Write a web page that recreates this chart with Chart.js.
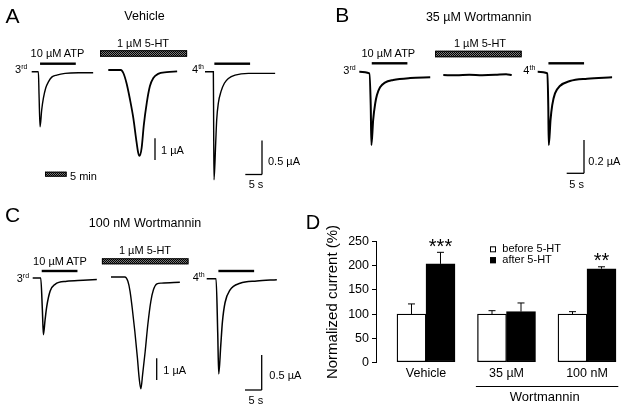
<!DOCTYPE html>
<html>
<head>
<meta charset="utf-8">
<script src="https://cdn.jsdelivr.net/npm/chart.js@4.4.0/dist/chart.umd.min.js"></script>
<style>
body { margin: 0; background: #fff; width: 628px; height: 410px; overflow: hidden; position: relative;
       font-family: "Liberation Sans", Arial, sans-serif; color: #000; }
canvas { position: absolute; }
.lbl { position: absolute; white-space: nowrap; line-height: 1; transform: translateY(-50%); font-size: 11px; }
.c { transform: translate(-50%, -50%); }
sup { font-size: 0.64em; vertical-align: 0.55em; line-height: 0; }
</style>
</head>
<body>
<canvas id="panelA" width="310" height="200" style="left:0;top:0"></canvas>
<canvas id="panelB" width="318" height="200" style="left:310px;top:0"></canvas>
<canvas id="panelC" width="300" height="210" style="left:0;top:200px"></canvas>
<canvas id="panelD" width="328" height="210" style="left:300px;top:200px"></canvas>

<!-- panel A -->
<div class="lbl c" style="left:12.5px;top:14.5px;font-size:21px">A</div>
<div class="lbl c" style="left:144.5px;top:15.5px;font-size:12.5px">Vehicle</div>
<div class="lbl c" style="left:57.5px;top:53px">10 µM ATP</div>
<div class="lbl c" style="left:143px;top:43px">1 µM 5-HT</div>
<div class="lbl" style="left:15px;top:69px">3<sup>rd</sup></div>
<div class="lbl" style="left:192px;top:69px">4<sup>th</sup></div>
<div class="lbl" style="left:161px;top:150px">1 µA</div>
<div class="lbl" style="left:268px;top:160.7px">0.5 µA</div>
<div class="lbl c" style="left:256px;top:184px">5 s</div>
<div class="lbl" style="left:70px;top:175.5px">5 min</div>

<!-- panel B -->
<div class="lbl c" style="left:342.2px;top:13.7px;font-size:21px">B</div>
<div class="lbl c" style="left:478.7px;top:16.7px;font-size:12.5px">35 µM Wortmannin</div>
<div class="lbl c" style="left:388.3px;top:53.3px">10 µM ATP</div>
<div class="lbl c" style="left:480px;top:42.7px">1 µM 5-HT</div>
<div class="lbl" style="left:343.3px;top:70.3px">3<sup>rd</sup></div>
<div class="lbl" style="left:523.3px;top:70px">4<sup>th</sup></div>
<div class="lbl" style="left:588.3px;top:160.7px">0.2 µA</div>
<div class="lbl c" style="left:576.7px;top:184.3px">5 s</div>

<!-- panel C -->
<div class="lbl c" style="left:12.5px;top:214px;font-size:21px">C</div>
<div class="lbl c" style="left:145px;top:223.3px;font-size:12.5px">100 nM Wortmannin</div>
<div class="lbl c" style="left:60px;top:261.3px">10 µM ATP</div>
<div class="lbl c" style="left:145px;top:250.3px">1 µM 5-HT</div>
<div class="lbl" style="left:16.7px;top:277.5px">3<sup>rd</sup></div>
<div class="lbl" style="left:192.7px;top:277px">4<sup>th</sup></div>
<div class="lbl" style="left:163.3px;top:370px">1 µA</div>
<div class="lbl" style="left:269.3px;top:375px">0.5 µA</div>
<div class="lbl c" style="left:255.8px;top:400.3px">5 s</div>

<!-- panel D -->
<div class="lbl c" style="left:313px;top:221.7px;font-size:20px">D</div>

<script>
// ATP currents: [time (s), current (µA)]
const vehAtp3 = [[0, 0], [2.0, 0], [2.2, -0.34], [2.5, -0.81], [3.0, -0.56], [3.5, -0.39], [4.2, -0.24], [5.0, -0.15], [6.0, -0.08], [7.5, -0.05], [10.0, -0.024], [14.0, -0.015], [18.4, -0.015]];
const vehAtp4 = [[0, 0], [2.5, 0], [2.6, -0.86], [2.7, -1.59], [3.2, -1.05], [3.5, -0.71], [4.0, -0.46], [4.8, -0.29], [5.8, -0.17], [7.0, -0.10], [9.0, -0.05], [13.0, -0.024], [21.0, -0.024]];
const wm35Atp3 = [[0, 0], [2.9, -0.01], [3.3, -0.2], [3.5, -0.44], [4.0, -0.29], [4.6, -0.19], [5.1, -0.14], [6.0, -0.094], [7.4, -0.066], [9.8, -0.05], [14.7, -0.038], [20.5, -0.034]];
const wm35Atp4 = [[0, 0], [2.8, -0.01], [3.06, -0.21], [3.2, -0.44], [3.7, -0.29], [4.2, -0.2], [5.0, -0.13], [6.4, -0.086], [9.3, -0.056], [14.3, -0.042], [21.5, -0.034]];
const wm100Atp3 = [[0, 0], [2.4, 0], [2.9, -0.46], [3.2, -0.81], [3.7, -0.6], [4.2, -0.41], [5.2, -0.19], [6.7, -0.09], [10.2, -0.047], [15.1, -0.033], [19.2, -0.023]];
const wm100Atp4 = [[0, -0.01], [2.8, -0.01], [3.3, -0.78], [3.6, -1.37], [4.2, -0.97], [4.7, -0.63], [5.5, -0.35], [7.0, -0.17], [10.0, -0.076], [15.0, -0.043], [21.0, -0.024]];

// 5-HT currents: [time (min), current (µA)]
const vehHt = [[0, 0], [2.9, 0], [3.5, -0.15], [4.2, -0.6], [5.0, -1.35], [5.8, -2.24], [6.4, -3.14], [6.9, -3.81], [7.2, -3.96], [7.7, -3.59], [8.2, -2.54], [8.9, -1.49], [9.6, -0.75], [10.4, -0.37], [11.5, -0.18], [13.5, -0.1], [15.9, -0.06]];
const wm35Ht = [[0, -0.02], [3, -0.022], [6, -0.018], [9, -0.021], [12, -0.019], [14.5, -0.015], [15.8, -0.02]];
const wm100Ht = [[0, 0], [3.2, 0], [3.9, -0.2], [4.4, -0.66], [4.9, -1.43], [5.5, -2.5], [6.1, -3.73], [6.5, -4.65], [6.9, -5.15], [7.3, -4.5], [7.9, -3.42], [8.5, -2.2], [9.2, -1.12], [9.8, -0.59], [10.6, -0.32], [11.7, -0.28], [15.9, -0.24]];

// drug application windows, on each trace's own time axis
const vehAtpWin = [[2.5, 13.2], [2.8, 13.5]];
const wm35AtpWin = [[3.6, 13.9], [3.1, 13.4]];
const wm100AtpWin = [[2.7, 13.4], [3.5, 14.2]];
const vehHtWin = [-1.9, 18.2];
const wm35HtWin = [-1.9, 18.1];
const wm100HtWin = [-2.1, 17.9];

// panel D: normalized current (%), mean and SEM
const groups = ['Vehicle', '35 µM', '100 nM'];
const seriesNames = ['before 5-HT', 'after 5-HT'];
const beforeMean = [100, 100, 100];
const beforeSem = [21, 7, 5];
const afterMean = [204, 105, 194];
const afterSem = [24, 18, 4];
const afterSig = ['***', '', '**'];

Chart.defaults.font.family = '"Liberation Sans", Arial, sans-serif';
Chart.defaults.color = '#000';
Chart.defaults.animation = false;

function hatchPattern(ctx) {
    const c = document.createElement('canvas');
    c.width = 2;
    c.height = 2;
    const g = c.getContext('2d');
    g.fillStyle = '#7a7a7a';
    g.fillRect(0, 0, 2, 2);
    g.fillStyle = '#000';
    g.fillRect(0, 0, 1, 1);
    g.fillRect(1, 1, 1, 1);
    return ctx.createPattern(c, 'repeat');
}

function drawBar(ctx, x0, x1, yc, h, hatch) {
    if (hatch) {
        ctx.fillStyle = hatchPattern(ctx);
        ctx.fillRect(x0, yc - h / 2, x1 - x0, h);
        ctx.strokeStyle = '#000';
        ctx.lineWidth = 1;
        ctx.strokeRect(x0 + 0.5, yc - h / 2 + 0.5, x1 - x0 - 1, h - 1);
    } else {
        ctx.fillStyle = '#000';
        ctx.fillRect(x0, yc - h / 2, x1 - x0, h);
    }
}

function line(ctx, x0, y0, x1, y1) {
    ctx.beginPath();
    ctx.moveTo(x0, y0);
    ctx.lineTo(x1, y1);
    ctx.stroke();
}

// axis spec: [page pixel of value 0, pixels per unit]
function axisFor(spec, id, p) {
    const horiz = id[0] === 'x';
    const size = horiz ? p.w : p.h;
    const z = spec[0] - (horiz ? p.ox : p.oy);
    const ppu = spec[1];
    if (horiz) {
        return { type: 'linear', axis: 'x', display: false, min: -z / ppu, max: (size - z) / ppu };
    }
    return { type: 'linear', axis: 'y', display: false, min: -(size - z) / ppu, max: z / ppu };
}

function drawOverlay(chart, p) {
    const ctx = chart.ctx;
    const s = chart.scales;
    const len = (id, v) => Math.abs(s[id].getPixelForValue(v) - s[id].getPixelForValue(0));
    ctx.save();
    p.appBars.forEach(b => {
        const x0 = s[b.x].getPixelForValue(b.span[0]);
        const x1 = s[b.x].getPixelForValue(b.span[1]);
        drawBar(ctx, x0, x1, b.y - p.oy, b.h, b.hatch);
    });
    (p.timeBars || []).forEach(b => {
        const x0 = b.left - p.ox;
        drawBar(ctx, x0, x0 + len(b.x, b.len), b.y - p.oy, b.h, b.hatch);
    });
    ctx.strokeStyle = '#000';
    ctx.lineWidth = 1.3;
    (p.vBars || []).forEach(b => {
        const x = b.x - p.ox;
        const y1 = b.bottom - p.oy;
        line(ctx, x, y1 - len(b.y, b.len), x, y1);
    });
    (p.lBars || []).forEach(b => {
        const x = b.right - p.ox;
        const y = b.bottom - p.oy;
        line(ctx, x, y - len(b.y, b.ylen), x, y);
        line(ctx, x - len(b.x, b.xlen), y, x, y);
    });
    ctx.restore();
}

function makeTracePanel(id, p) {
    const scales = {};
    Object.keys(p.axes).forEach(k => { scales[k] = axisFor(p.axes[k], k, p); });
    new Chart(document.getElementById(id), {
        type: 'scatter',
        data: {
            datasets: p.traces.map(t => ({
                data: t[0].map(d => ({ x: d[0], y: d[1] })),
                xAxisID: t[1],
                yAxisID: t[2],
                showLine: true,
                pointRadius: 0,
                borderColor: '#000',
                borderWidth: t[3] || 1.6,
                cubicInterpolationMode: 'monotone'
            }))
        },
        options: {
            responsive: false,
            layout: { padding: 0 },
            plugins: { legend: { display: false }, tooltip: { enabled: false } },
            scales: scales
        },
        plugins: [{ id: 'overlay', afterDatasetsDraw(chart) { drawOverlay(chart, p); } }]
    });
}

makeTracePanel('panelA', {
    ox: 0, oy: 0, w: 310, h: 200,
    axes: { x3: [31.7, 3.34], x4: [205, 3.34], x5: [108.3, 4.33], ya: [71.7, 68], y5: [70, 21.7] },
    traces: [[vehAtp3, 'x3', 'ya', 1.4], [vehHt, 'x5', 'y5', 1.8], [vehAtp4, 'x4', 'ya', 1.4]],
    appBars: [
        { x: 'x3', span: vehAtpWin[0], y: 63.7, h: 2.4 },
        { x: 'x4', span: vehAtpWin[1], y: 63.7, h: 2.4 },
        { x: 'x5', span: vehHtWin, y: 53.5, h: 6.5, hatch: true }
    ],
    timeBars: [{ x: 'x5', len: 5, left: 45, y: 174.2, h: 5, hatch: true }],
    vBars: [{ y: 'y5', len: 1, x: 155, bottom: 160 }],
    lBars: [{ x: 'x3', xlen: 5, y: 'ya', ylen: 0.5, right: 262, bottom: 174.5 }]
});

makeTracePanel('panelB', {
    ox: 310, oy: 0, w: 318, h: 200,
    axes: { x3: [359.3, 3.46], x4: [537.7, 3.46], x5: [443.3, 4.33], ya: [71.7, 166.7] },
    traces: [[wm35Atp3, 'x3', 'ya', 2], [wm35Ht, 'x5', 'ya', 2], [wm35Atp4, 'x4', 'ya', 2]],
    appBars: [
        { x: 'x3', span: wm35AtpWin[0], y: 63.3, h: 2.4 },
        { x: 'x4', span: wm35AtpWin[1], y: 63.3, h: 2.4 },
        { x: 'x5', span: wm35HtWin, y: 54, h: 6.5, hatch: true }
    ],
    lBars: [{ x: 'x3', xlen: 5, y: 'ya', ylen: 0.2, right: 584, bottom: 173.3 }]
});

makeTracePanel('panelC', {
    ox: 0, oy: 200, w: 300, h: 210,
    axes: { x3: [32.7, 3.34], x4: [206.7, 3.34], x5: [111, 4.33], ya: [278, 70], y5: [277, 21.7] },
    traces: [[wm100Atp3, 'x3', 'ya', 1.5], [wm100Ht, 'x5', 'y5', 1.4], [wm100Atp4, 'x4', 'ya', 1.5]],
    appBars: [
        { x: 'x3', span: wm100AtpWin[0], y: 271, h: 2.4 },
        { x: 'x4', span: wm100AtpWin[1], y: 271, h: 2.4 },
        { x: 'x5', span: wm100HtWin, y: 261.3, h: 6, hatch: true }
    ],
    vBars: [{ y: 'y5', len: 1, x: 156.7, bottom: 380 }],
    lBars: [{ x: 'x3', xlen: 5, y: 'ya', ylen: 0.5, right: 261.7, bottom: 390 }]
});

// panel D extras: error bars, asterisks, legend, group line
const barExtras = {
    id: 'barExtras',
    afterDatasetsDraw(chart) {
        const ctx = chart.ctx;
        const y = chart.scales.y;
        const x = chart.scales.x;
        const sems = [beforeSem, afterSem];
        const means = [beforeMean, afterMean];
        ctx.save();
        ctx.strokeStyle = '#000';
        ctx.lineWidth = 1;
        sems.forEach((sem, d) => {
            chart.getDatasetMeta(d).data.forEach((bar, i) => {
                const top = y.getPixelForValue(means[d][i] + sem[i]);
                line(ctx, bar.x, bar.y, bar.x, top);
                line(ctx, bar.x - 3.5, top, bar.x + 3.5, top);
                if (d === 1 && afterSig[i]) {
                    ctx.fillStyle = '#000';
                    ctx.font = '20px "Liberation Sans", Arial, sans-serif';
                    ctx.textAlign = 'center';
                    ctx.textBaseline = 'alphabetic';
                    ctx.fillText(afterSig[i], bar.x, top + 0.5);
                }
            });
        });
        // legend
        chart.data.datasets.forEach((ds, d) => {
            const yy = 49.3 + d * 10.9;
            ctx.fillStyle = ds.backgroundColor;
            ctx.fillRect(190, yy - 3, 6, 6);
            ctx.strokeRect(190.5, yy - 2.5, 5, 5);
            ctx.fillStyle = '#000';
            ctx.font = '11px "Liberation Sans", Arial, sans-serif';
            ctx.textAlign = 'left';
            ctx.textBaseline = 'middle';
            ctx.fillText(ds.label, 202.3, yy);
        });
        // Wortmannin bracket line
        const xa = x.getPixelForValue(1) - 30.6;
        const xb = x.getPixelForValue(2) + 31.3;
        line(ctx, xa, 186.5, xb, 186.5);
        ctx.font = '13px "Liberation Sans", Arial, sans-serif';
        ctx.textAlign = 'center';
        ctx.textBaseline = 'middle';
        ctx.fillText('Wortmannin', (x.getPixelForValue(1) + x.getPixelForValue(2)) / 2 - 2, 197);
        ctx.restore();
    }
};

new Chart(document.getElementById('panelD'), {
    type: 'bar',
    data: {
        datasets: [
            {
                label: seriesNames[0],
                data: beforeMean.map((v, i) => ({ x: i, y: v })),
                backgroundColor: '#fff',
                borderColor: '#000',
                borderWidth: 1.3,
                borderSkipped: false,
                barThickness: 29
            },
            {
                label: seriesNames[1],
                data: afterMean.map((v, i) => ({ x: i, y: v })),
                backgroundColor: '#000',
                borderColor: '#000',
                borderWidth: 1.3,
                borderSkipped: false,
                barThickness: 29
            }
        ]
    },
    options: {
        responsive: false,
        layout: { padding: { top: 41.7, left: 0, right: 0, bottom: 0 } },
        plugins: { legend: { display: false }, tooltip: { enabled: false } },
        scales: {
            x: {
                type: 'linear',
                offset: false,
                min: -0.6211,
                max: 2.5093,
                afterBuildTicks: s => { s.ticks = groups.map((g, i) => ({ value: i })); },
                afterFit: s => { s.height = 47.7; },
                ticks: {
                    autoSkip: false,
                    maxRotation: 0,
                    padding: 4,
                    font: { size: 12.5 },
                    callback: (v, i) => groups[i]
                },
                grid: { display: false, drawTicks: false, offset: false },
                border: { display: false }
            },
            y: {
                min: 0,
                max: 250,
                afterFit: s => { s.width = 76; },
                ticks: { stepSize: 50, padding: 3, font: { size: 12.5 } },
                grid: { display: true, drawOnChartArea: false, drawTicks: true, tickLength: 4, color: '#000' },
                border: { display: true, color: '#000', width: 1 },
                title: {
                    display: true,
                    text: 'Normalized current (%)',
                    font: { size: 15 },
                    padding: { top: 24, bottom: 0 }
                }
            }
        }
    },
    plugins: [barExtras]
});
</script>
</body>
</html>
